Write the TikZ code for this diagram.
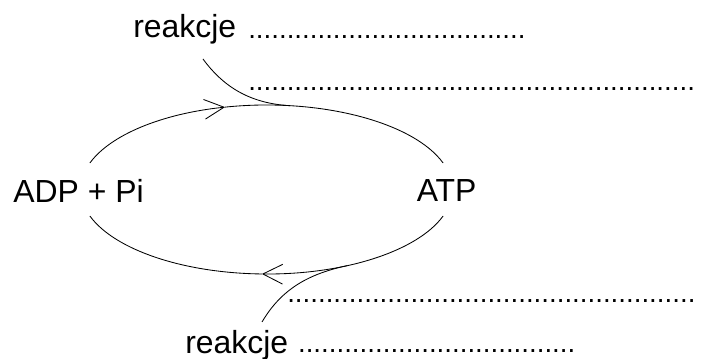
\documentclass[tikz,border=0pt]{standalone}
\usepackage{fontspec}
\setmainfont{Liberation Sans}
\usetikzlibrary{calc,arrows.meta}
\def\kropki#1{\foreach \k in {1,...,#1}{.}}
\tikzset{
	napis/.style={font=\fontsize{22.7}{27}\selectfont, inner sep=0pt, anchor=base west},
	linia/.style={font=\fontsize{19.7}{24}\selectfont, inner sep=0pt, anchor=base west},
	krzywa/.style={line width=0.6pt},
	grot/.style={-{Straight Barb[length=14pt,width=14pt]}}
}

\begin{document}
\begin{tikzpicture}[x=0.025cm,y=-0.025cm]
				\useasboundingbox (0,0) rectangle (701,359);
				\coordinate (c) at (266.5,189.5);
				
				\node[napis] (adp) at (13,203) {ADP + Pi};
				\node[napis] (atp) at (416.5,202) {ATP};
				\node[napis] (rtop) at (133,38) {reakcje};
				\node[linia] (dtop) at (248,39) {\kropki{36}};
				\node[linia] (dmid) at (248,90.7) {\kropki{58}};
				\node[linia] (dlow) at (287,302.2) {\kropki{53}};
				\node[napis] (rbot) at (185,353) {reakcje};
				\node[linia] (dbot) at (297.8,352.4) {\kropki{36}};
				
				\draw[krzywa,grot] ($(c)+(198.3:186 and 84.5)$) arc (198.3:257.1:186 and 84.5);
				\draw[krzywa] ($(c)+(257.1:186 and 84.5)$) arc (257.1:341.7:186 and 84.5);
				\draw[krzywa,grot] ($(c)+(18.3:186 and 84.5)$) arc (18.3:91.4:186 and 84.5);
				\draw[krzywa] ($(c)+(91.4:186 and 84.5)$) arc (91.4:161.7:186 and 84.5);
				
				\coordinate (st) at (203,59);
				\coordinate (jt) at ($(c)+(277.3:186 and 84.5)$);
				\draw[krzywa] (st) .. controls (222,85) and (248,103.4) .. (jt);
				
				\coordinate (sb) at (262,322);
				\coordinate (jb) at ($(c)+(64.4:186 and 84.5)$);
				\draw[krzywa] (sb) .. controls (282,288) and (310,273.7) .. (jb);
\end{tikzpicture}
\end{document}
